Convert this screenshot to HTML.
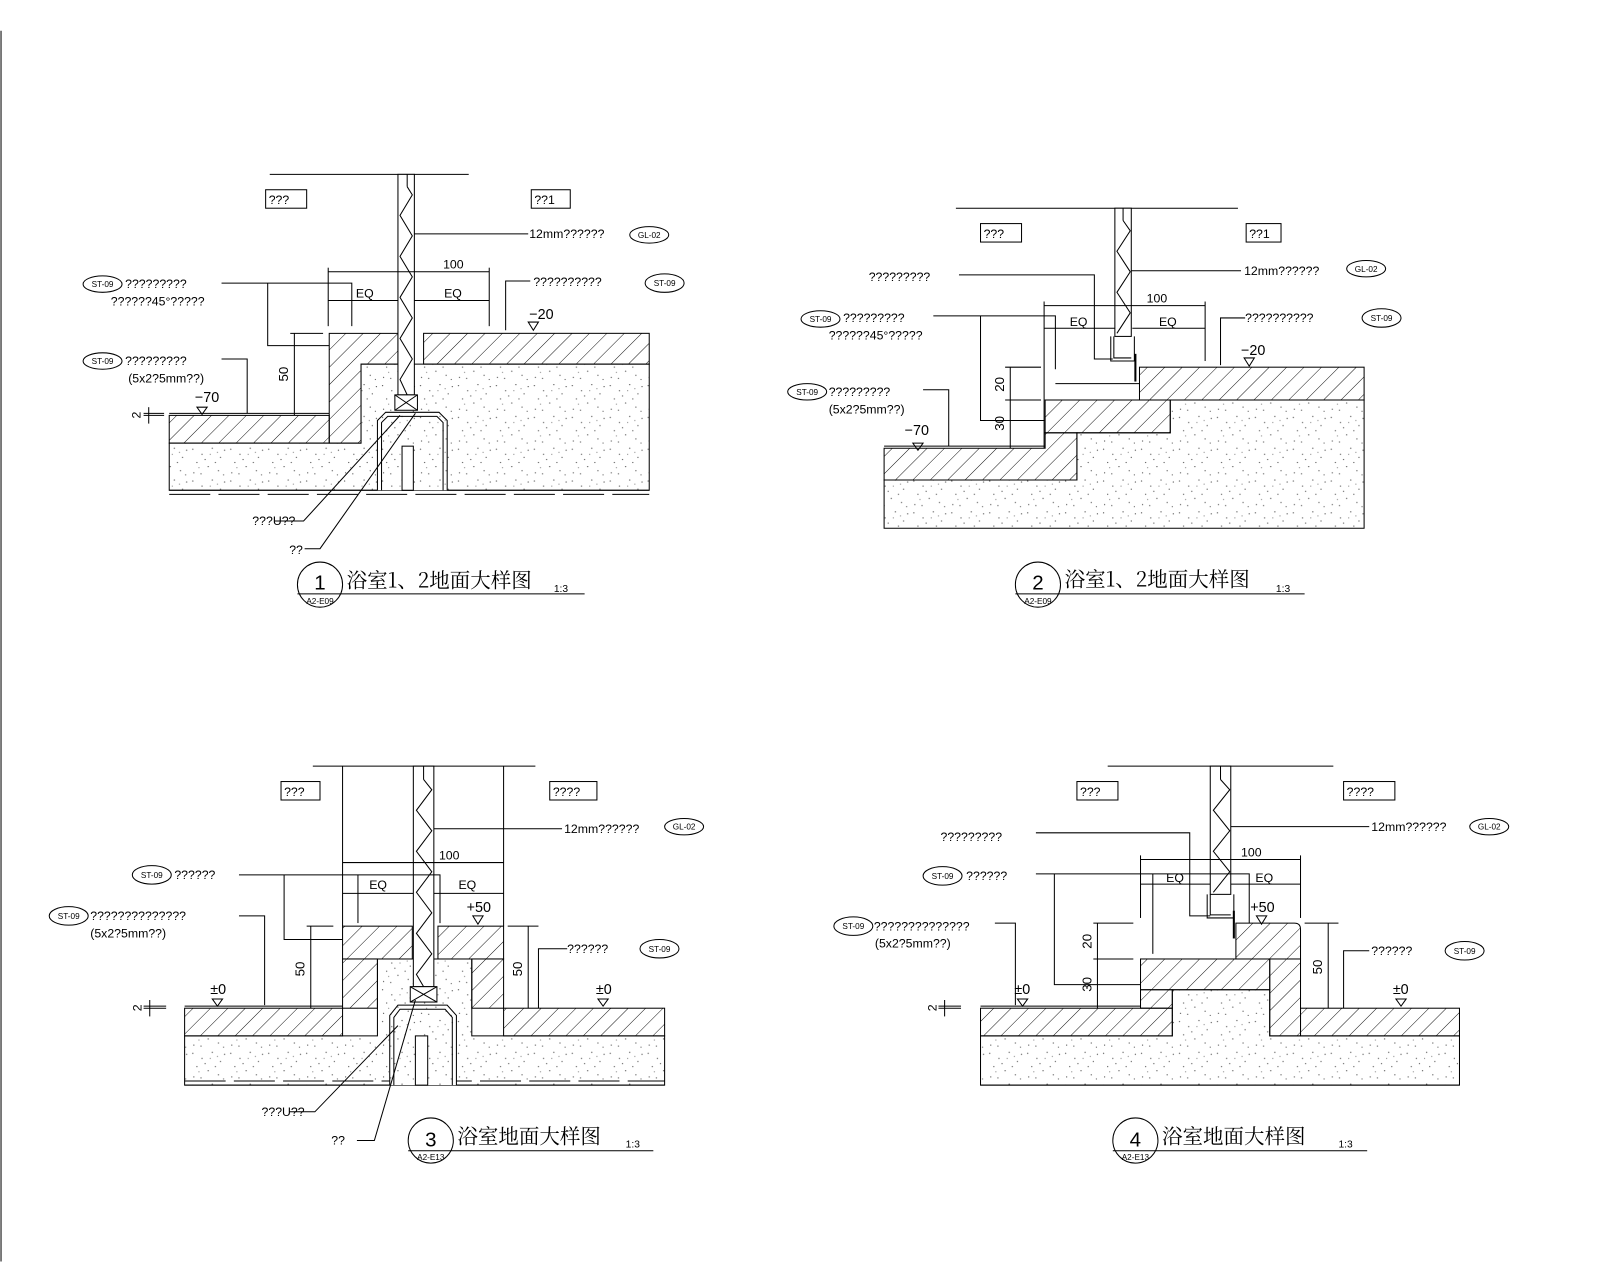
<!DOCTYPE html>
<html><head><meta charset="utf-8"><style>
html,body{margin:0;padding:0;background:#fff;}
svg{display:block}
text{font-family:"Liberation Sans","Noto Sans CJK SC",sans-serif;fill:#000}
.t{font-size:12px}
.s{font-size:8px}
.cj{font-family:"Noto Serif CJK SC","Liberation Serif",serif;font-size:20px}
</style></head><body>
<svg width="1600" height="1280" viewBox="0 0 1560 1248" xmlns="http://www.w3.org/2000/svg">
<defs>
<pattern id="h" width="12" height="12" patternUnits="userSpaceOnUse" patternTransform="rotate(45)">
<line x1="0" y1="0" x2="0" y2="12" stroke="#000" stroke-width="0.9"/></pattern>
<pattern id="d" width="37" height="31" patternUnits="userSpaceOnUse">
<rect width="37" height="31" fill="#fff"/>
<g fill="#555"><circle cx="3" cy="4" r=".6"/><circle cx="12" cy="9" r=".6"/><circle cx="22" cy="3" r=".6"/><circle cx="30" cy="12" r=".6"/><circle cx="7" cy="17" r=".6"/><circle cx="18" cy="21" r=".6"/><circle cx="28" cy="25" r=".6"/><circle cx="4" cy="27" r=".6"/><circle cx="15" cy="14" r=".6"/><circle cx="34" cy="5" r=".6"/><circle cx="25" cy="17" r=".6"/><circle cx="11" cy="28" r=".6"/><circle cx="33" cy="29" r=".6"/><circle cx="20" cy="9" r=".5"/><circle cx="9" cy="22" r=".5"/><circle cx="27" cy="7" r=".5"/></g></pattern>
</defs>
<g stroke="#000" stroke-width="1" fill="none">
<line x1="1" y1="30" x2="1" y2="1230"/>

<!-- ============ DIAGRAM 1 ============ -->
<line x1="263" y1="170" x2="457" y2="170"/>
<rect x="259" y="185" width="40" height="18"/><rect x="518" y="185" width="38" height="18"/>
<path d="M165 432H352V355H633V478H165Z" fill="url(#d)"/>
<rect x="413" y="325" width="220" height="30" fill="url(#h)"/>
<path d="M321 325H388V355H352V432H321Z" fill="url(#h)"/>
<rect x="165" y="405" width="156" height="27" fill="url(#h)"/>
<line x1="165" y1="403" x2="321" y2="403"/>
<line x1="165" y1="478" x2="633" y2="478"/><line x1="165" y1="482" x2="633" y2="482" stroke-dasharray="40 8"/>
<path d="M368 478V410L376 402H428L436 410V478" fill="url(#d)"/>
<path d="M372 478V412L378 406H426L432 412V478"/>
<rect x="392" y="435" width="11" height="43" fill="#fff"/>
<rect x="388" y="170" width="16" height="215" fill="#fff"/>
<line x1="397" y1="170" x2="397" y2="182"/>
<polyline points="397,182 402,190 390,210 402,230 390,250 402,270 390,290 402,310 390,330 402,350 390,370 397,385"/>
<rect x="385" y="385" width="22" height="15" fill="#fff"/><path d="M385 385L407 400M407 385L385 400"/>
<line x1="404" y1="228" x2="515" y2="228"/>
<ellipse cx="633" cy="229" rx="19" ry="8"/><ellipse cx="100" cy="277" rx="19" ry="8"/><ellipse cx="100" cy="352" rx="19" ry="8"/><ellipse cx="648" cy="276" rx="19" ry="9"/>
<line x1="320" y1="265" x2="477" y2="265"/><line x1="320" y1="261" x2="320" y2="318"/><line x1="477" y1="261" x2="477" y2="318"/>
<line x1="320" y1="293" x2="388" y2="293"/><line x1="404" y1="293" x2="477" y2="293"/>
<polyline points="216,276 343,276 343,318"/><polyline points="261,276 261,337 321,337"/>
<polyline points="517,274 493,274 493,322"/>
<polyline points="216,350 241,350 241,403"/>
<line x1="283" y1="325" x2="315" y2="325"/><line x1="287" y1="325" x2="287" y2="405"/>
<path d="M192 397h10l-5 7z"/><path d="M515 314h10l-5 8z"/>
<line x1="145" y1="397" x2="145" y2="413"/><line x1="140" y1="403" x2="160" y2="403"/><line x1="140" y1="405" x2="160" y2="405"/>
<polyline points="268,508 296,508 390,405"/><polyline points="297,535 312,535 405,403"/>
<circle cx="312" cy="570" r="22"/><line x1="290" y1="579" x2="570" y2="579"/>

<!-- ============ DIAGRAM 2 ============ -->
<line x1="932" y1="203" x2="1207" y2="203"/>
<rect x="956" y="218" width="40" height="18"/><rect x="1215" y="218" width="34" height="18"/>
<path d="M862 468H1050V422H1141V390H1330V515H862Z" fill="url(#d)"/>
<rect x="1111" y="358" width="219" height="32" fill="url(#h)"/>
<rect x="1019" y="390" width="122" height="32" fill="url(#h)"/>
<path d="M862 437H1019V422H1050V468H862Z" fill="url(#h)"/>
<line x1="862" y1="435" x2="1019" y2="435"/>
<rect x="1087" y="203" width="16" height="125" fill="#fff"/>
<line x1="1095" y1="203" x2="1095" y2="215"/>
<polyline points="1095,215 1102,225 1089,245 1102,265 1089,285 1102,305 1089,325"/>
<path d="M1083 328V352H1106V328M1086 328V349H1103" />
<line x1="1107" y1="345" x2="1107" y2="372" stroke-width="2"/>
<line x1="1103" y1="264" x2="1210" y2="264"/>
<ellipse cx="1332" cy="262" rx="19" ry="8"/><ellipse cx="800" cy="311" rx="19" ry="8"/><ellipse cx="787" cy="382" rx="19" ry="8"/><ellipse cx="1347" cy="310" rx="19" ry="9"/>
<line x1="1018" y1="298" x2="1175" y2="298"/><line x1="1018" y1="294" x2="1018" y2="437"/><line x1="1175" y1="294" x2="1175" y2="352"/>
<line x1="1018" y1="320" x2="1087" y2="320"/><line x1="1104" y1="320" x2="1175" y2="320"/>
<polyline points="935,268 1067,268 1067,350 1085,350"/>
<polyline points="910,308 1029,308 1029,360"/><polyline points="956,308 956,410 1019,410"/>
<line x1="1029" y1="374" x2="1111" y2="374"/>
<polyline points="1214,310 1190,310 1190,356"/>
<polyline points="900,380 925,380 925,435"/>
<line x1="980" y1="358" x2="1015" y2="358"/><line x1="980" y1="390" x2="1015" y2="390"/><line x1="985" y1="358" x2="985" y2="437"/>
<path d="M890 432h10l-5 7z"/><path d="M1213 349h10l-5 8z"/>
<circle cx="1012" cy="570" r="22"/><line x1="990" y1="579" x2="1272" y2="579"/>

<!-- ============ DIAGRAM 3 ============ -->
<line x1="305" y1="747" x2="522" y2="747"/>
<line x1="334" y1="747" x2="334" y2="903"/><line x1="491" y1="747" x2="491" y2="903"/>
<rect x="274" y="762" width="38" height="18"/><rect x="536" y="762" width="46" height="18"/>
<path d="M180 1010H368V935H460V1010H648V1058H180Z" fill="url(#d)"/>
<rect x="334" y="903" width="68" height="32" fill="url(#h)"/><rect x="427" y="903" width="64" height="32" fill="url(#h)"/>
<rect x="334" y="935" width="34" height="48" fill="url(#h)"/><rect x="460" y="935" width="31" height="48" fill="url(#h)"/>
<rect x="180" y="983" width="154" height="27" fill="url(#h)"/><rect x="491" y="983" width="157" height="27" fill="url(#h)"/>
<line x1="180" y1="981" x2="334" y2="981"/>
<line x1="180" y1="1058" x2="648" y2="1058"/><line x1="180" y1="1054" x2="648" y2="1054" stroke-dasharray="40 8"/>
<path d="M380 1058V990L388 980H436L445 990V1058" fill="url(#d)"/>
<path d="M384 1058V992L390 984H434L441 992V1058"/>
<rect x="405" y="1010" width="12" height="48" fill="#fff"/>
<rect x="403" y="747" width="20" height="215" fill="#fff"/>
<line x1="413" y1="747" x2="413" y2="760"/>
<polyline points="413,760 421,770 406,790 421,810 406,830 421,850 406,870 421,890 406,910 421,930 406,950 413,962"/>
<rect x="400" y="962" width="26" height="15" fill="#fff"/><path d="M400 962L426 977M426 962L400 977"/>
<line x1="423" y1="808" x2="548" y2="808"/>
<ellipse cx="667" cy="806" rx="19" ry="8"/><ellipse cx="148" cy="853" rx="19" ry="9"/><ellipse cx="67" cy="893" rx="19" ry="9"/><ellipse cx="643" cy="925" rx="19" ry="9"/>
<line x1="334" y1="841" x2="491" y2="841"/><line x1="334" y1="871" x2="403" y2="871"/><line x1="423" y1="871" x2="491" y2="871"/>
<polyline points="233,853 429,853 429,900"/><polyline points="349,853 349,900"/><polyline points="277,853 277,916 334,916"/>
<polyline points="233,893 258,893 258,980"/>
<polyline points="553,925 525,925 525,983"/>
<line x1="299" y1="903" x2="325" y2="903"/><line x1="303" y1="903" x2="303" y2="983"/>
<line x1="495" y1="903" x2="525" y2="903"/><line x1="515" y1="903" x2="515" y2="983"/>
<path d="M207 974h10l-5 7z"/><path d="M583 974h10l-5 7z"/><path d="M461 893h10l-5 8z"/>
<line x1="146" y1="975" x2="146" y2="991"/><line x1="140" y1="981" x2="162" y2="981"/><line x1="140" y1="983" x2="162" y2="983"/>
<polyline points="282,1084 307,1084 388,1000"/><polyline points="348,1112 365,1112 405,975"/>
<circle cx="420" cy="1112" r="22"/><line x1="398" y1="1122" x2="637" y2="1122"/>

<!-- ============ DIAGRAM 4 ============ -->
<line x1="1080" y1="747" x2="1300" y2="747"/>
<rect x="1050" y="762" width="40" height="18"/><rect x="1310" y="762" width="50" height="18"/>
<path d="M956 1010H1143V965H1238V1010H1423V1058H956Z" fill="url(#d)"/>
<path d="M1205 900H1262Q1268 900 1268 906V935H1205Z" fill="url(#h)"/>
<rect x="1112" y="935" width="126" height="30" fill="url(#h)"/>
<rect x="1238" y="935" width="30" height="75" fill="url(#h)"/>
<rect x="1112" y="965" width="31" height="18" fill="url(#h)"/>
<rect x="956" y="983" width="187" height="27" fill="url(#h)"/><rect x="1268" y="983" width="155" height="27" fill="url(#h)"/>
<line x1="956" y1="981" x2="1112" y2="981"/>
<line x1="956" y1="1058" x2="1423" y2="1058"/>
<rect x="1180" y="747" width="20" height="125" fill="#fff"/>
<line x1="1190" y1="747" x2="1190" y2="760"/>
<polyline points="1190,760 1199,770 1183,790 1199,810 1183,830 1199,850 1183,870"/>
<path d="M1177 872V895H1203V872M1180 872V892H1200"/>
<line x1="1203" y1="888" x2="1203" y2="915" stroke-width="2"/>
<line x1="1200" y1="806" x2="1335" y2="806"/>
<ellipse cx="1452" cy="806" rx="19" ry="8"/><ellipse cx="919" cy="854" rx="19" ry="9"/><ellipse cx="832" cy="903" rx="19" ry="9"/><ellipse cx="1428" cy="927" rx="19" ry="9"/>
<line x1="1112" y1="838" x2="1268" y2="838"/><line x1="1112" y1="834" x2="1112" y2="895"/><line x1="1268" y1="834" x2="1268" y2="895"/>
<line x1="1112" y1="862" x2="1180" y2="862"/><line x1="1200" y1="862" x2="1268" y2="862"/>
<polyline points="1010,812 1160,812 1160,893 1180,893"/>
<polyline points="1010,852 1218,852 1218,900"/><polyline points="1124,852 1124,930"/><polyline points="1028,852 1028,960 1112,960"/>
<polyline points="970,900 990,900 990,980"/>
<polyline points="1335,927 1310,927 1310,983"/>
<line x1="1066" y1="900" x2="1105" y2="900"/><line x1="1066" y1="935" x2="1105" y2="935"/><line x1="1070" y1="900" x2="1070" y2="983"/>
<line x1="1272" y1="900" x2="1305" y2="900"/><line x1="1295" y1="900" x2="1295" y2="983"/>
<path d="M992 974h10l-5 7z"/><path d="M1361 974h10l-5 7z"/><path d="M1225 893h10l-5 8z"/>
<line x1="921" y1="975" x2="921" y2="991"/><line x1="915" y1="981" x2="937" y2="981"/><line x1="915" y1="983" x2="937" y2="983"/>
<circle cx="1107" cy="1112" r="22"/><line x1="1085" y1="1122" x2="1333" y2="1122"/>
</g>

<g class="t">
<!-- D1 -->
<text x="262" y="199">???</text><text x="521" y="199">??1</text>
<text x="516" y="232">12mm??????</text>
<text x="432" y="262">100</text><text x="347" y="290">EQ</text><text x="433" y="290">EQ</text>
<text x="122" y="281">?????????</text><text x="108" y="298">??????45°?????</text>
<text x="520" y="279">??????????</text><text x="516" y="311" font-size="14">−20</text>
<text x="122" y="356">?????????</text><text x="125" y="373">(5x2?5mm??)</text>
<text x="190" y="392" font-size="14">−70</text>
<text x="246" y="512">???U??</text><text x="282" y="540">??</text>
<text x="281" y="372" transform="rotate(-90 281 372)" font-size="13">50</text>
<text x="128" y="407" transform="rotate(-90 133 403)">2</text>
<!-- D2 -->
<text x="959" y="232">???</text><text x="1218" y="232">??1</text>
<text x="1213" y="268">12mm??????</text>
<text x="1118" y="295">100</text><text x="1043" y="318">EQ</text><text x="1130" y="318">EQ</text>
<text x="847" y="274">?????????</text>
<text x="822" y="314">?????????</text><text x="808" y="331">??????45°?????</text>
<text x="1214" y="314">??????????</text><text x="1210" y="346" font-size="14">−20</text>
<text x="808" y="386">?????????</text><text x="808" y="403">(5x2?5mm??)</text>
<text x="882" y="424" font-size="14">−70</text>
<text x="979" y="382" transform="rotate(-90 979 382)" font-size="13">20</text>
<text x="979" y="420" transform="rotate(-90 979 420)" font-size="13">30</text>
<!-- D3 -->
<text x="277" y="776">???</text><text x="539" y="776">????</text>
<text x="550" y="812">12mm??????</text>
<text x="428" y="838">100</text><text x="360" y="867">EQ</text><text x="447" y="867">EQ</text>
<text x="170" y="857">??????</text>
<text x="88" y="897">??????????????</text><text x="88" y="914">(5x2?5mm??)</text>
<text x="455" y="889" font-size="14">+50</text>
<text x="205" y="969" font-size="14">±0</text><text x="581" y="969" font-size="14">±0</text>
<text x="553" y="929">??????</text>
<text x="255" y="1088">???U??</text><text x="323" y="1116">??</text>
<text x="297" y="952" transform="rotate(-90 297 952)" font-size="13">50</text>
<text x="509" y="952" transform="rotate(-90 509 952)" font-size="13">50</text>
<text x="129" y="985" transform="rotate(-90 134 981)">2</text>
<!-- D4 -->
<text x="1053" y="776">???</text><text x="1313" y="776">????</text>
<text x="1337" y="810">12mm??????</text>
<text x="1210" y="835">100</text><text x="1137" y="860">EQ</text><text x="1224" y="860">EQ</text>
<text x="917" y="820">?????????</text>
<text x="942" y="858">??????</text>
<text x="852" y="907">??????????????</text><text x="853" y="924">(5x2?5mm??)</text>
<text x="1219" y="889" font-size="14">+50</text>
<text x="989" y="969" font-size="14">±0</text><text x="1358" y="969" font-size="14">±0</text>
<text x="1337" y="931">??????</text>
<text x="1064" y="925" transform="rotate(-90 1064 925)" font-size="13">20</text>
<text x="1064" y="967" transform="rotate(-90 1064 967)" font-size="13">30</text>
<text x="1289" y="950" transform="rotate(-90 1289 950)" font-size="13">50</text>
<text x="904" y="985" transform="rotate(-90 909 981)">2</text>
</g>
<g class="s" text-anchor="middle">
<text x="633" y="232">GL-02</text><text x="100" y="280">ST-09</text><text x="100" y="355">ST-09</text><text x="648" y="279">ST-09</text>
<text x="1332" y="265">GL-02</text><text x="800" y="314">ST-09</text><text x="787" y="385">ST-09</text><text x="1347" y="313">ST-09</text>
<text x="667" y="809">GL-02</text><text x="148" y="856">ST-09</text><text x="67" y="896">ST-09</text><text x="643" y="928">ST-09</text>
<text x="1452" y="809">GL-02</text><text x="919" y="857">ST-09</text><text x="832" y="906">ST-09</text><text x="1428" y="930">ST-09</text>
<text x="312" y="589">A2-E09</text><text x="1012" y="589">A2-E09</text><text x="420" y="1131">A2-E13</text><text x="1107" y="1131">A2-E13</text>
</g>
<g text-anchor="middle" font-size="20">
<text x="312" y="575">1</text><text x="1012" y="575">2</text><text x="420" y="1118">3</text><text x="1107" y="1118">4</text>
</g>
<text class="cj" x="338" y="573">浴室1、2地面大样图</text><text x="540" y="577" font-size="10">1:3</text>
<text class="cj" x="1038" y="572">浴室1、2地面大样图</text><text x="1244" y="577" font-size="10">1:3</text>
<text class="cj" x="446" y="1115">浴室地面大样图</text><text x="610" y="1119" font-size="10">1:3</text>
<text class="cj" x="1133" y="1115">浴室地面大样图</text><text x="1305" y="1119" font-size="10">1:3</text>
</svg>
</body></html>
